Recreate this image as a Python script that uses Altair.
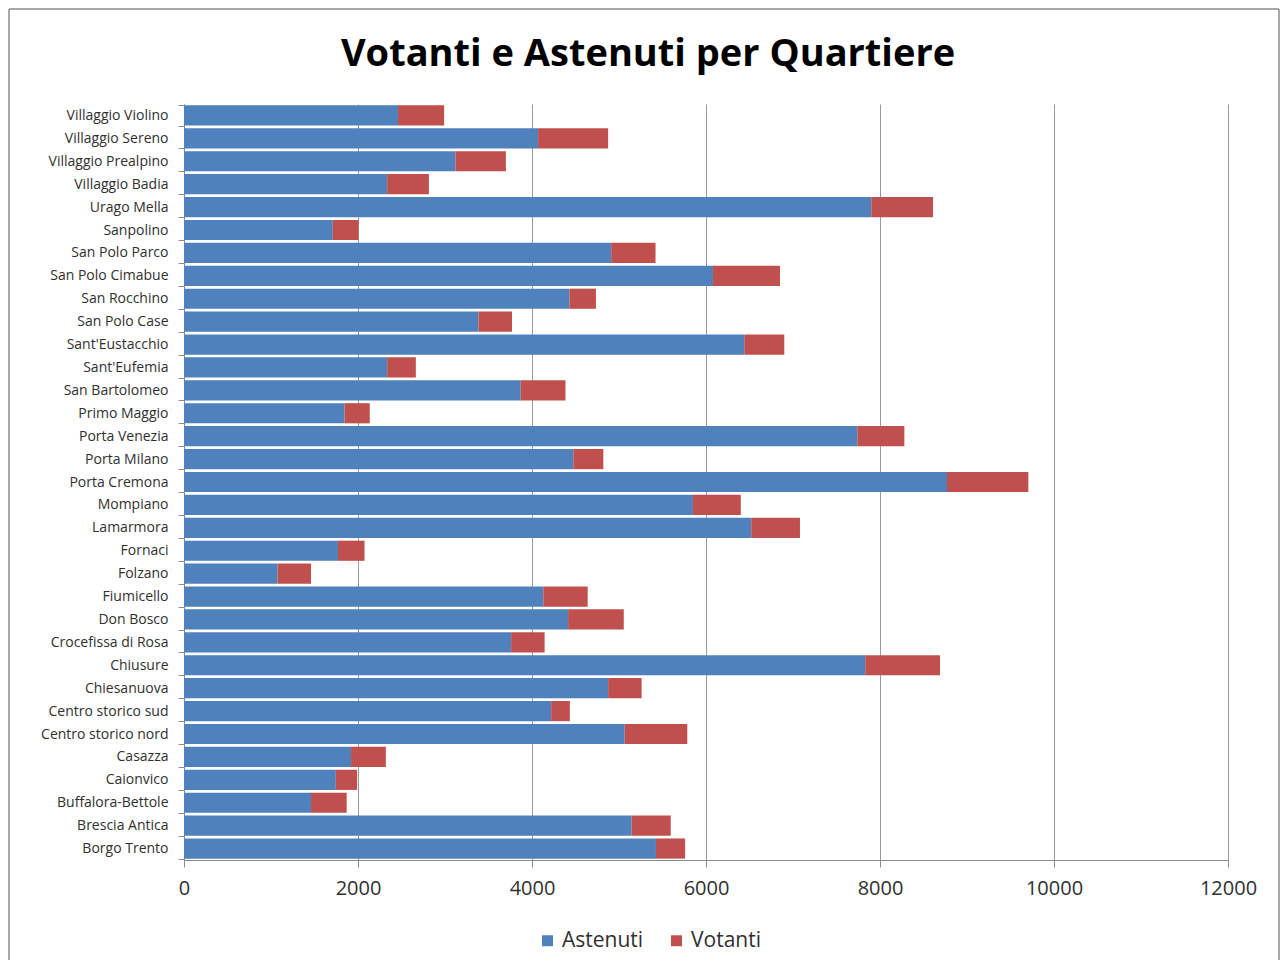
import altair as alt
import pandas as pd

quartieri = [
    "Villaggio Violino", "Villaggio Sereno", "Villaggio Prealpino", "Villaggio Badia",
    "Urago Mella", "Sanpolino", "San Polo Parco", "San Polo Cimabue", "San Rocchino",
    "San Polo Case", "Sant'Eustacchio", "Sant'Eufemia", "San Bartolomeo", "Primo Maggio",
    "Porta Venezia", "Porta Milano", "Porta Cremona", "Mompiano", "Lamarmora", "Fornaci",
    "Folzano", "Fiumicello", "Don Bosco", "Crocefissa di Rosa", "Chiusure", "Chiesanuova",
    "Centro storico sud", "Centro storico nord", "Casazza", "Caionvico", "Buffalora-Bettole",
    "Brescia Antica", "Borgo Trento",
]
astenuti = [
    2460, 4070, 3120, 2335, 7900, 1710, 4910, 6080, 4430, 3385, 6440, 2335, 3870, 1845,
    7740, 4475, 8770, 5850, 6520, 1770, 1075, 4130, 4415, 3760, 7830, 4875, 4220, 5065,
    1920, 1745, 1460, 5145, 5425,
]
votanti = [
    530, 805, 580, 480, 710, 295, 510, 770, 305, 385, 460, 330, 515, 290,
    540, 345, 935, 550, 560, 305, 385, 510, 640, 385, 860, 385, 215, 720,
    400, 245, 410, 450, 335,
]
serie = ["Astenuti", "Votanti"]
colori = ["#4F81BD", "#C0504D"]
x_ticks = [0, 2000, 4000, 6000, 8000, 10000, 12000]
titolo = ["Votanti e Astenuti per Quartiere"]

rows = []
for q, a, v in zip(quartieri, astenuti, votanti):
    rows.append({"Quartiere": q, "Serie": "Astenuti", "Valore": a, "ord": 0})
    rows.append({"Quartiere": q, "Serie": "Votanti", "Valore": v, "ord": 1})
df = pd.DataFrame(rows)

FONT = "Open Sans"

bars = alt.Chart(df).mark_bar().encode(
    y=alt.Y(
        "Quartiere:N", sort=quartieri, title=None,
        scale=alt.Scale(paddingInner=0.12, paddingOuter=0.06),
        axis=alt.Axis(
            labelFontSize=14, labelColor="#303030", labelFont=FONT,
            tickBand="extent", tickSize=6, tickColor="#8c8c8c",
            domainColor="#8c8c8c", labelPadding=10, grid=False,
        ),
    ),
    x=alt.X(
        "Valore:Q", stack="zero", title=None,
        scale=alt.Scale(domain=[0, 12000], nice=False),
        axis=alt.Axis(
            values=x_ticks, format="d", labelFontSize=20, labelFont=FONT,
            labelColor="#303030", tickSize=7, tickColor="#8c8c8c",
            domainColor="#8c8c8c", labelPadding=11, grid=True,
            gridColor="#9a9a9a", gridWidth=1, labelFlush=False,
        ),
    ),
    color=alt.Color(
        "Serie:N",
        scale=alt.Scale(domain=serie, range=colori),
        legend=alt.Legend(
            title=None, orient="none", legendX=353, legendY=826,
            direction="horizontal", symbolType="square", symbolSize=120,
            symbolStrokeWidth=0, labelFontSize=21, labelFont=FONT,
            labelColor="#303030", columnPadding=22, labelOffset=4, padding=0,
        ),
    ),
    order=alt.Order("ord:Q"),
)

title_df = pd.DataFrame({"t": titolo})
title_mark = alt.Chart(title_df).mark_text(
    font=FONT, fontSize=38, fontWeight="bold", color="#000000",
    align="center", baseline="alphabetic",
).encode(text="t:N", x=alt.value(464), y=alt.value(-38))

frame_df = pd.DataFrame({"k": [0]})
frame_left = alt.Chart(frame_df).mark_rule(color="#8c8c8c", strokeWidth=1.5).encode(
    x=alt.value(-175), y=alt.value(-95), y2=alt.value(870)
)
frame_top = alt.Chart(frame_df).mark_rule(color="#8c8c8c", strokeWidth=1.5).encode(
    x=alt.value(-175), x2=alt.value(1095), y=alt.value(-95)
)
frame_right = alt.Chart(frame_df).mark_rule(color="#8c8c8c", strokeWidth=1.5).encode(
    x=alt.value(1095), y=alt.value(-95), y2=alt.value(870)
)

chart = alt.layer(bars, title_mark, frame_left, frame_top, frame_right).properties(
    width=1044,
    height=756,
    padding={"left": 176, "top": 96, "right": 52, "bottom": 100},
    autosize=alt.AutoSizeParams(type="none"),
).configure_view(stroke=None)

chart.save("out.html", embed_options={"renderer": "svg", "actions": False})
